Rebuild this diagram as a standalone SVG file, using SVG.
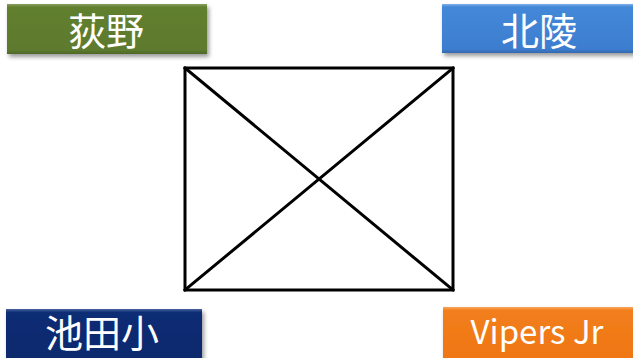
<svg xmlns="http://www.w3.org/2000/svg" width="633" height="358" viewBox="0 0 633 358">
<defs>
<linearGradient id="gGreen" x1="0" y1="0" x2="0" y2="1"><stop offset="0" stop-color="#8aa060"/><stop offset="0.06" stop-color="#62802f"/><stop offset="0.92" stop-color="#5d7a2e"/><stop offset="1" stop-color="#4e6826"/></linearGradient>
<linearGradient id="gBlue" x1="0" y1="0" x2="0" y2="1"><stop offset="0" stop-color="#7fb0ea"/><stop offset="0.06" stop-color="#4488d8"/><stop offset="0.92" stop-color="#3d7dcf"/><stop offset="1" stop-color="#3468b0"/></linearGradient>
<linearGradient id="gNavy" x1="0" y1="0" x2="0" y2="1"><stop offset="0" stop-color="#4a64a0"/><stop offset="0.06" stop-color="#0e2d75"/><stop offset="1" stop-color="#0c286c"/></linearGradient>
<linearGradient id="gOrange" x1="0" y1="0" x2="0" y2="1"><stop offset="0" stop-color="#f7a860"/><stop offset="0.06" stop-color="#f27e1c"/><stop offset="1" stop-color="#ef7614"/></linearGradient>
<filter id="sh" x="-10%" y="-20%" width="125%" height="150%"><feDropShadow dx="2" dy="3" stdDeviation="2" flood-color="#000" flood-opacity="0.4"/></filter>
</defs>
<style>
.lbl{fill:#ffffff;font-family:"Noto Sans CJK JP","Noto Sans",sans-serif;font-size:38px;text-anchor:middle;dominant-baseline:central}
.lat{font-size:33px}
.edge{stroke:#000;stroke-width:3;fill:none;stroke-linecap:square}
</style>
<g id="connectors">
<rect class="edge" x="185" y="68" width="268" height="222"/>
<line class="edge" x1="185" y1="68" x2="453" y2="290"/>
<line class="edge" x1="453" y1="68" x2="185" y2="290"/>
</g>
<g id="n-ogino">
<rect x="7" y="4" width="200" height="50" fill="url(#gGreen)" filter="url(#sh)"/>
<text class="lbl" x="106" y="28">荻野</text>
</g>
<g id="n-hokuryo">
<rect x="442" y="4" width="195" height="49" fill="url(#gBlue)" filter="url(#sh)"/>
<text class="lbl" x="539" y="28">北陵</text>
</g>
<g id="n-ikeda">
<rect x="6" y="309" width="196" height="55" fill="url(#gNavy)" filter="url(#sh)"/>
<text class="lbl" x="102" y="330">池田小</text>
</g>
<g id="n-vipers">
<rect x="443" y="307" width="195" height="55" fill="url(#gOrange)" filter="url(#sh)"/>
<text class="lbl lat" x="537" y="330">Vipers Jr</text>
</g>
</svg>
